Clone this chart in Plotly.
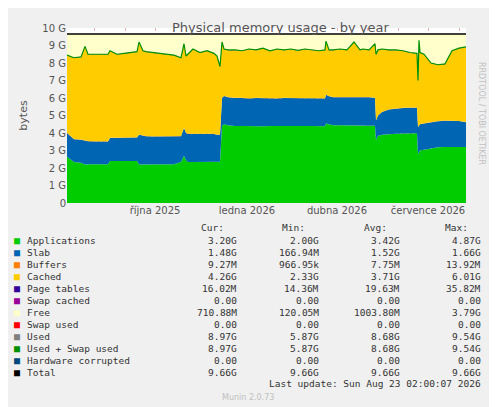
import plotly.graph_objects as go
import datetime as dt

start = dt.date(2025, 7, 5)
# day offsets from start and read values (GB)
days = [0, 7, 14, 18, 21, 28, 35, 41, 43, 50, 57, 64, 70, 72, 76, 79, 86, 93, 100, 107, 114, 117, 119, 121, 126, 133, 140, 147, 150, 153, 155, 157, 161,
        168, 175, 182, 189, 196, 203, 210, 217, 224, 231, 238, 245, 252, 258, 259, 262, 266, 273, 280, 287, 293, 296, 302, 308, 309, 311,
        315, 322, 329, 336, 343, 350, 351, 352, 353, 357, 364, 371, 378, 385, 392, 399]
apps = [2.65, 2.35, 2.3, 2.2, 2.22, 2.22, 2.22, 2.22, 2.4, 2.4, 2.4, 2.4, 2.4, 2.2, 2.2, 2.2, 2.2, 2.2, 2.22, 2.22, 2.35, 2.7, 2.45, 2.35, 2.35, 2.35, 2.35, 2.35, 2.35, 2.36, 4.4, 4.5, 4.45,
        4.4, 4.4, 4.38, 4.4, 4.38, 4.4, 4.38, 4.4, 4.4, 4.38, 4.4, 4.4, 4.38, 4.38, 4.55, 4.5, 4.45, 4.45, 4.45, 4.45, 4.45, 4.45, 4.45, 4.42, 3.6, 3.85,
        3.9, 3.94, 3.96, 3.97, 3.98, 3.98, 2.8, 2.9, 3.0, 3.05, 3.12, 3.18, 3.2, 3.2, 3.2, 3.2]
slab = [4.0, 3.65, 3.62, 3.55, 3.53, 3.52, 3.52, 3.52, 3.72, 3.73, 3.73, 3.75, 3.75, 3.9, 3.85, 3.82, 3.8, 3.8, 3.8, 3.8, 3.82, 4.28, 4.0, 3.95, 3.95, 3.95, 3.95, 3.95, 3.9, 3.9, 6.0, 6.12, 6.05,
        6.0, 6.0, 5.97, 6.0, 5.98, 5.98, 5.97, 6.0, 5.98, 5.97, 5.98, 5.98, 5.97, 5.97, 6.19, 6.1, 6.05, 6.05, 6.05, 6.05, 6.05, 6.05, 6.05, 6.0, 4.72, 5.0,
        5.2, 5.35, 5.4, 5.43, 5.45, 5.45, 4.34, 4.45, 4.5, 4.55, 4.62, 4.67, 4.7, 4.7, 4.68, 4.62]
used = [8.45, 8.3, 8.35, 8.95, 8.5, 8.5, 8.48, 8.5, 8.7, 8.5, 8.55, 8.6, 8.65, 9.2, 8.7, 8.65, 8.6, 8.55, 8.5, 8.45, 8.3, 9.1, 8.4, 8.5, 8.8, 8.6, 8.7, 8.55, 8.4, 7.8, 9.2, 8.8, 8.75,
        8.75, 8.7, 8.8, 8.75, 8.85, 8.7, 8.8, 8.75, 8.8, 8.72, 8.8, 8.75, 8.7, 8.75, 9.25, 8.75, 8.75, 8.8, 8.75, 9.2, 8.75, 8.8, 8.75, 9.1, 8.5, 8.75,
        8.8, 8.75, 8.75, 8.7, 8.6, 8.55, 7.0, 9.3, 8.6, 8.5, 8.0, 7.9, 7.95, 8.7, 8.85, 8.92]
buffers_g = 0.009
pagetables_g = 0.016
total_g = 9.66

x = [start + dt.timedelta(days=d) for d in days]
cached = [u - s - buffers_g - pagetables_g for u, s in zip(used, slab)]
slab_only = [s - a for s, a in zip(slab, apps)]
free = [total_g - u for u in used]
n = len(x)

fig = go.Figure()
def area(name, y, color):
    fig.add_trace(go.Scatter(x=x, y=y, name=name, stackgroup="m", mode="lines",
                             line=dict(width=0, color=color), fillcolor=color, showlegend=False))
area("Applications", apps, "#00CC00")
area("Slab", slab_only, "#0066B3")
area("Buffers", [buffers_g]*n, "#FF8000")
area("Cached", cached, "#FFCC00")
area("Page tables", [pagetables_g]*n, "#330099")
area("Free", free, "#FFFFCC")
fig.add_trace(go.Scatter(x=x, y=used, mode="lines", line=dict(color="#008F00", width=1.2), showlegend=False))
fig.add_trace(go.Scatter(x=[x[0], x[-1]], y=[total_g, total_g], mode="lines", line=dict(color="black", width=1.5), showlegend=False))

months = []
y_, m_ = 2025, 8
while (y_, m_) <= (2026, 8):
    months.append(dt.date(y_, m_, 1))
    m_ += 1
    if m_ > 12:
        m_, y_ = 1, y_ + 1
labels = {dt.date(2025, 10, 1): "října 2025", dt.date(2026, 1, 1): "ledna 2026",
          dt.date(2026, 4, 1): "dubna 2026", dt.date(2026, 7, 1): "července 2026"}
ytickvals = list(range(0, 11))
yticktext = ["0"] + [f"{v} G" for v in range(1, 11)]

OFF = 8  # page body margin
W, H = 497 - OFF, 407 - OFF
L, R, T, B = 67 - OFF, 466 - OFF, 28 - OFF, 203 - OFF
fig.update_layout(
    width=W, height=H, paper_bgcolor="#F0F0F0", plot_bgcolor="white",
    margin=dict(l=L, r=W - R, t=T, b=H - B, autoexpand=False),
    font=dict(family="DejaVu Sans", size=10, color="#555555"),
    xaxis=dict(range=[x[0], x[-1]], tickvals=months, ticktext=[labels.get(mm, "") for mm in months],
               showgrid=True, gridcolor="#E8B0B0", griddash="dot", gridwidth=1, ticks="", zeroline=False,
               showline=False, tickfont=dict(size=10, color="#555555")),
    yaxis=dict(range=[0, 10], tickvals=ytickvals, ticktext=yticktext, showgrid=True, gridcolor="#E8B0B0",
               griddash="dot", zeroline=False, ticks="", tickfont=dict(size=10, color="#555555"),
               minor=dict(dtick=0.5, showgrid=True, gridcolor="#DDDDDD", griddash="dot"),
               title=dict(text="bytes", font=dict(size=11, color="#555555"), standoff=12)),
)

def px(xp):
    return (xp - OFF - L) / (R - L)
def py(yp):
    return (B - (yp - OFF)) / (B - T)

fig.add_annotation(text="Physical memory usage - by year", xref="paper", yref="paper", x=px(280), y=py(18),
                   showarrow=False, font=dict(size=13, color="#555555"))
fig.add_annotation(text="Munin 2.0.73", xref="paper", yref="paper", x=px(248), y=py(391), yanchor="top",
                   showarrow=False, font=dict(size=8, color="#C0C0C0"))
fig.add_annotation(text="RRDTOOL / TOBI OETIKER", xref="paper", yref="paper", x=px(488), y=py(60),
                   textangle=90, showarrow=False, font=dict(size=8, color="#C0C0C0"))

legend_names = ["Applications", "Slab", "Buffers", "Cached", "Page tables", "Swap cached", "Free", "Swap used",
                "Used", "Used + Swap used", "Hardware corrupted", "Total"]
legend_colors = ["#00CC00", "#0066B3", "#FF8000", "#FFCC00", "#330099", "#990099", "#FFFFCC", "#FF0000",
                 "#808080", "#008F00", "#00487D", "#000000"]
cur = ["3.20G", "1.48G", "9.27M", "4.26G", "16.02M", "0.00", "710.88M", "0.00", "8.97G", "8.97G", "0.00", "9.66G"]
mn = ["2.00G", "166.94M", "966.95k", "2.33G", "14.36M", "0.00", "120.05M", "0.00", "5.87G", "5.87G", "0.00", "9.66G"]
avg = ["3.42G", "1.52G", "7.75M", "3.71G", "19.63M", "0.00", "1003.80M", "0.00", "8.68G", "8.68G", "0.00", "9.66G"]
mx = ["4.87G", "1.66G", "13.92M", "6.01G", "35.82M", "0.00", "3.79G", "0.00", "9.54G", "9.54G", "0.00", "9.66G"]

mono = "DejaVu Sans Mono"
def txt(t, xp, yp, anchor="left", color="#333333", size=9.5):
    fig.add_annotation(text=t, xref="paper", yref="paper", x=px(xp), y=py(yp), xanchor=anchor,
                       yanchor="middle", showarrow=False, font=dict(family=mono, size=size, color=color))
for lbl, xr in zip(["Cur:", "Min:", "Avg:", "Max:"], [226, 307, 389, 470]):
    txt(lbl, xr, 227, "right")
cols = [(cur, 239), (mn, 321), (avg, 402), (mx, 483)]
for i, name in enumerate(legend_names):
    yp = 240 + i * 12.05
    txt("■", 12, yp, "left", legend_colors[i], 10)
    txt(name, 25, yp)
    for arr, xr in cols:
        txt(arr[i], xr, yp, "right")
txt("Last update: Sun Aug 23 02:00:07 2026", 483, 383.5, "right")

fig.write_html("out.html")
